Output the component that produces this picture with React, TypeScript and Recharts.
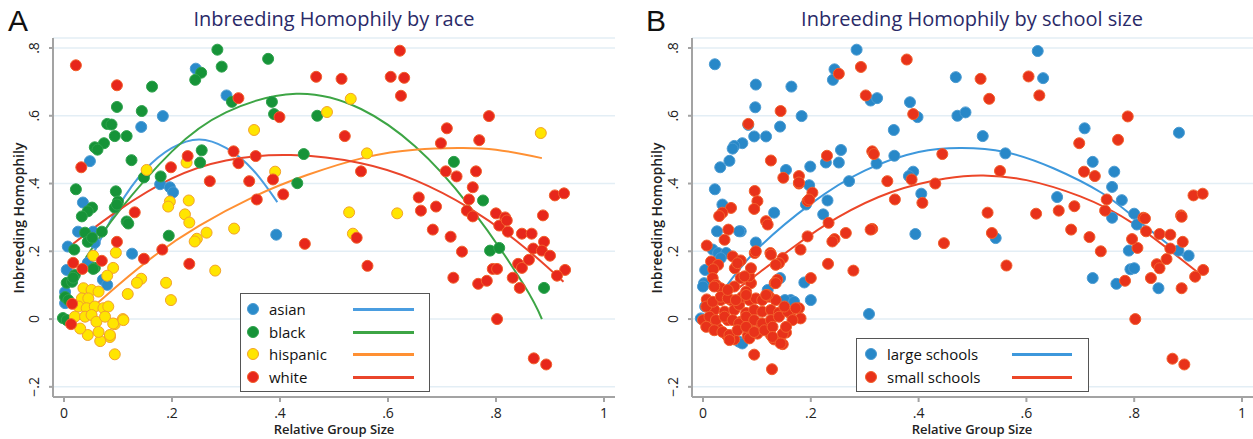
import { CartesianGrid, ComposedChart, Line, Scatter, XAxis, YAxis } from "recharts";

type Pt = [number, number];

const X_TICKS = [0, 0.2, 0.4, 0.6, 0.8, 1];
const Y_TICKS = [-0.2, 0, 0.2, 0.4, 0.6, 0.8];

// Panel A: points by race
const asian: Pt[] = [
  [0.244, 0.739], [0.301, 0.66], [0.183, 0.599], [0.143, 0.567], [0.048, 0.466],
  [0.178, 0.398], [0.196, 0.389], [0.202, 0.374], [0.035, 0.344], [0.393, 0.249],
  [0.126, 0.193], [0.007, 0.214], [0.005, 0.145], [0.044, 0.166], [0.072, 0.116],
  [0.08, 0.101], [0.026, 0.258], [0.054, 0.258], [0.002, 0.08], [0.002, 0.047],
  [0.057, 0.225],
];

const black: Pt[] = [
  [0.284, 0.795], [0.292, 0.745], [0.254, 0.727], [0.243, 0.706], [0.163, 0.686],
  [0.378, 0.768], [0.311, 0.641], [0.385, 0.641], [0.389, 0.605], [0.098, 0.626],
  [0.144, 0.614], [0.08, 0.576], [0.088, 0.574], [0.094, 0.54], [0.116, 0.54],
  [0.074, 0.519], [0.057, 0.507], [0.062, 0.5], [0.125, 0.469], [0.148, 0.418],
  [0.179, 0.421], [0.255, 0.498], [0.252, 0.462], [0.432, 0.401], [0.444, 0.487],
  [0.469, 0.6], [0.096, 0.377], [0.1, 0.347], [0.094, 0.329], [0.052, 0.329],
  [0.044, 0.318], [0.033, 0.303], [0.722, 0.464], [0.776, 0.35], [0.789, 0.202],
  [0.806, 0.21], [0.889, 0.092], [0.116, 0.288], [0.119, 0.282], [0.194, 0.246],
  [0.019, 0.205], [0.005, 0.107], [0.002, 0.065], [-0.002, 0.003], [0.057, 0.151],
  [0.039, 0.255], [0.044, 0.228], [0.07, 0.258], [0.02, 0.13], [0.015, 0.11],
  [0.022, 0.383], [0.098, 0.338], [0.052, 0.24], [0.054, 0.148], [0.017, 0.122],
  [0.008, 0.056], [0.005, -0.003],
];

const hispanic: Pt[] = [
  [0.153, 0.44], [0.227, 0.462], [0.352, 0.558], [0.391, 0.435], [0.196, 0.347],
  [0.193, 0.332], [0.231, 0.35], [0.224, 0.309], [0.531, 0.65], [0.487, 0.611],
  [0.883, 0.549], [0.561, 0.489], [0.528, 0.315], [0.617, 0.312], [0.535, 0.252],
  [0.232, 0.285], [0.264, 0.255], [0.246, 0.237], [0.242, 0.229], [0.315, 0.267],
  [0.096, 0.196], [0.28, 0.143], [0.189, 0.107], [0.198, 0.056], [0.143, 0.119],
  [0.135, 0.107], [0.118, 0.074], [0.091, 0.151], [0.08, 0.128], [0.109, 0.0],
  [0.094, -0.015], [0.085, -0.053], [0.094, -0.104], [0.067, -0.065], [0.044, -0.047],
  [0.054, 0.187], [0.036, 0.091], [0.051, 0.086], [0.064, 0.081], [0.033, 0.061],
  [0.045, 0.061], [0.027, 0.037], [0.042, 0.032], [0.057, 0.037], [0.073, 0.032],
  [0.082, 0.037], [0.02, 0.007], [0.039, 0.007], [0.051, 0.012], [0.06, -0.008],
  [0.076, 0.007], [0.091, -0.013], [0.11, -0.003], [0.03, -0.028], [0.064, -0.038],
  [0.085, -0.047],
];

const white: Pt[] = [
  [0.022, 0.749], [0.098, 0.69], [0.323, 0.652], [0.399, 0.596], [0.198, 0.448],
  [0.229, 0.481], [0.314, 0.495], [0.323, 0.46], [0.355, 0.481], [0.387, 0.412],
  [0.406, 0.368], [0.27, 0.407], [0.343, 0.407], [0.357, 0.353], [0.467, 0.715],
  [0.032, 0.448], [0.131, 0.315], [0.622, 0.792], [0.514, 0.709], [0.605, 0.715],
  [0.63, 0.712], [0.624, 0.659], [0.787, 0.599], [0.709, 0.563], [0.52, 0.54],
  [0.698, 0.519], [0.769, 0.528], [0.55, 0.436], [0.707, 0.436], [0.727, 0.421],
  [0.763, 0.436], [0.757, 0.389], [0.657, 0.359], [0.661, 0.32], [0.689, 0.332],
  [0.75, 0.353], [0.746, 0.32], [0.909, 0.365], [0.926, 0.371], [0.8, 0.312],
  [0.817, 0.3], [0.887, 0.306], [0.542, 0.24], [0.446, 0.222], [0.562, 0.157],
  [0.683, 0.264], [0.716, 0.243], [0.737, 0.199], [0.721, 0.122], [0.757, 0.303],
  [0.806, 0.276], [0.82, 0.291], [0.822, 0.258], [0.848, 0.252], [0.866, 0.252],
  [0.889, 0.228], [0.869, 0.208], [0.885, 0.202], [0.9, 0.187], [0.861, 0.175],
  [0.841, 0.163], [0.848, 0.151], [0.928, 0.145], [0.913, 0.128], [0.794, 0.148],
  [0.802, 0.148], [0.831, 0.122], [0.844, 0.092], [0.767, 0.104], [0.783, 0.113],
  [0.802, 0.0], [0.87, -0.116], [0.893, -0.134], [0.098, 0.228], [0.148, 0.178],
  [0.182, 0.205], [0.232, 0.163], [0.017, 0.166], [0.034, 0.148], [0.07, 0.172],
  [0.015, 0.045], [0.013, -0.015],
];

// Panel A: fitted curves
const fitAsian: Pt[] = [
  [0.05, 0.18], [0.1, 0.33], [0.15, 0.44], [0.2, 0.505], [0.25, 0.53],
  [0.3, 0.505], [0.35, 0.44], [0.395, 0.345],
];
const fitBlack: Pt[] = [
  [0.04, 0.18], [0.1, 0.315], [0.2, 0.495], [0.3, 0.61], [0.43, 0.665],
  [0.55, 0.62], [0.65, 0.51], [0.75, 0.335], [0.85, 0.105], [0.885, 0.0],
];
const fitHispanic: Pt[] = [
  [0.05, 0.03], [0.1, 0.1], [0.17, 0.19], [0.25, 0.275], [0.35, 0.36],
  [0.45, 0.425], [0.56, 0.478], [0.65, 0.5], [0.73, 0.505], [0.8, 0.5],
  [0.885, 0.475],
];
const fitWhite: Pt[] = [
  [0.015, 0.22], [0.1, 0.32], [0.2, 0.415], [0.3, 0.468], [0.42, 0.484],
  [0.55, 0.46], [0.65, 0.41], [0.75, 0.328], [0.85, 0.215], [0.925, 0.11],
];

// Panel B: points by school size
const large: Pt[] = [
  [0.022, 0.752], [0.098, 0.692], [0.285, 0.795], [0.244, 0.737], [0.241, 0.706],
  [0.164, 0.686], [0.311, 0.645], [0.323, 0.652], [0.384, 0.64], [0.398, 0.596],
  [0.097, 0.625], [0.183, 0.599], [0.084, 0.573], [0.143, 0.568], [0.095, 0.539],
  [0.117, 0.539], [0.073, 0.519], [0.058, 0.511], [0.055, 0.503], [0.049, 0.467],
  [0.032, 0.448], [0.154, 0.44], [0.199, 0.45], [0.197, 0.395], [0.231, 0.35],
  [0.228, 0.462], [0.256, 0.499], [0.252, 0.462], [0.271, 0.407], [0.322, 0.459],
  [0.354, 0.558], [0.355, 0.482], [0.39, 0.435], [0.382, 0.422], [0.405, 0.37],
  [0.022, 0.383], [0.036, 0.338], [0.132, 0.314], [0.223, 0.309], [0.621, 0.791],
  [0.469, 0.714], [0.631, 0.711], [0.472, 0.6], [0.487, 0.61], [0.883, 0.55],
  [0.708, 0.563], [0.519, 0.54], [0.561, 0.489], [0.723, 0.464], [0.763, 0.435],
  [0.759, 0.39], [0.657, 0.36], [0.777, 0.351], [0.8, 0.311], [0.394, 0.251],
  [0.543, 0.239], [0.723, 0.121], [0.759, 0.299], [0.805, 0.279], [0.882, 0.202],
  [0.901, 0.187], [0.79, 0.202], [0.793, 0.147], [0.8, 0.15], [0.845, 0.091],
  [0.767, 0.104], [0.308, 0.015], [0.191, 0.338], [0.143, 0.121], [0.188, 0.108],
  [0.2, 0.056], [0.163, 0.056], [0.152, 0.056], [0.169, 0.051], [0.098, 0.226],
  [0.07, 0.259], [0.026, 0.259], [0.018, 0.205], [0.028, 0.195], [0.043, 0.195],
  [0.004, 0.145], [0.002, 0.106], [0.004, 0.037], [-0.004, 0.002], [0.067, -0.067],
  [0.08, -0.021], [0.067, 0.259], [0.12, 0.086], [0.033, 0.18], [0.0, 0.096],
  [0.073, -0.072],
];

const small: Pt[] = [
  [0.293, 0.744], [0.252, 0.724], [0.378, 0.766], [0.302, 0.66], [0.39, 0.605],
  [0.144, 0.614], [0.084, 0.576], [0.126, 0.468], [0.149, 0.417], [0.178, 0.422],
  [0.178, 0.4], [0.203, 0.373], [0.194, 0.348], [0.23, 0.482], [0.314, 0.495],
  [0.317, 0.487], [0.387, 0.412], [0.342, 0.407], [0.356, 0.353], [0.407, 0.343],
  [0.431, 0.4], [0.444, 0.487], [0.052, 0.328], [0.036, 0.314], [0.03, 0.304],
  [0.096, 0.378], [0.101, 0.348], [0.095, 0.325], [0.515, 0.709], [0.604, 0.716],
  [0.624, 0.66], [0.531, 0.65], [0.788, 0.598], [0.698, 0.519], [0.77, 0.529],
  [0.551, 0.437], [0.707, 0.435], [0.727, 0.422], [0.66, 0.32], [0.689, 0.333],
  [0.749, 0.353], [0.746, 0.32], [0.91, 0.365], [0.927, 0.37], [0.817, 0.299],
  [0.887, 0.306], [0.528, 0.314], [0.618, 0.311], [0.265, 0.254], [0.314, 0.266],
  [0.536, 0.254], [0.447, 0.224], [0.563, 0.158], [0.683, 0.264], [0.717, 0.242],
  [0.738, 0.2], [0.82, 0.297], [0.822, 0.259], [0.888, 0.302], [0.847, 0.251],
  [0.867, 0.249], [0.89, 0.228], [0.867, 0.208], [0.86, 0.177], [0.842, 0.162],
  [0.847, 0.15], [0.928, 0.145], [0.913, 0.125], [0.806, 0.21], [0.796, 0.236],
  [0.831, 0.121], [0.783, 0.113], [0.888, 0.091], [0.802, 0.0], [0.871, -0.117],
  [0.893, -0.134], [0.311, 0.264], [0.244, 0.236], [0.24, 0.229], [0.233, 0.284],
  [0.194, 0.244], [0.181, 0.205], [0.232, 0.163], [0.279, 0.143], [0.2, 0.121],
  [0.178, 0.032], [0.181, 0.002], [0.162, 0.017], [0.154, -0.04], [0.148, -0.074],
  [0.128, -0.148], [0.095, -0.105], [0.126, -0.047], [0.132, -0.06], [0.101, -0.043],
  [0.083, -0.05], [0.058, -0.06], [0.044, -0.047], [0.138, 0.116], [0.133, 0.106],
  [0.125, 0.195], [0.148, 0.18], [0.141, 0.165], [0.096, 0.195], [0.117, 0.289],
  [0.12, 0.279], [0.047, 0.264], [0.04, 0.234], [0.007, 0.217], [0.015, 0.17],
  [0.028, 0.16], [0.019, 0.147], [0.055, 0.185], [0.07, 0.173], [0.059, 0.15],
  [0.018, 0.121], [0.024, 0.101], [0.033, 0.091], [0.007, 0.058], [0.033, 0.056],
  [0.052, 0.056], [0.0, -0.003], [0.015, -0.018], [0.028, -0.028], [0.046, -0.003],
  [0.021, 0.027], [0.04, 0.022], [0.058, 0.027], [0.067, 0.042], [0.073, 0.066],
  [0.086, 0.056], [0.098, 0.061], [0.11, 0.056], [0.123, 0.066], [0.135, 0.056],
  [0.08, 0.018], [0.095, 0.027], [0.11, 0.022], [0.126, 0.027], [0.141, 0.019],
  [0.07, -0.008], [0.089, -0.011], [0.107, -0.013], [0.12, -0.023], [0.086, -0.057],
  [0.089, 0.106], [0.08, 0.081], [0.086, 0.126], [0.07, 0.121], [0.058, 0.096],
  [0.12, 0.071], [0.098, 0.2], [0.064, 0.165], [0.126, 0.19], [0.135, 0.16],
  [0.089, 0.15], [0.077, 0.126], [0.135, 0.106], [0.197, 0.353], [0.178, 0.403],
  [0.012, 0.007], [0.024, -0.003], [0.04, 0.007], [0.055, -0.003], [0.067, -0.013],
  [0.08, 0.007], [0.095, -0.003], [0.11, -0.013], [0.126, -0.003], [0.141, 0.007],
  [0.157, 0.022], [0.172, 0.032], [0.166, -0.003], [0.006, -0.023], [0.021, -0.033],
  [0.036, -0.038], [0.049, -0.047], [0.064, -0.033], [0.08, -0.023], [0.095, -0.038],
  [0.114, -0.033], [0.129, -0.023], [0.148, -0.043], [0.154, -0.023], [0.049, -0.062],
  [0.129, -0.053], [0.144, -0.072], [0.006, 0.037], [0.018, 0.051], [0.033, 0.066],
  [0.046, 0.061], [0.061, 0.056], [0.08, 0.071], [0.117, 0.071], [0.151, 0.037],
  [0.021, 0.096], [0.046, 0.086],
];

const fitLarge: Pt[] = [
  [0.04, 0.09], [0.1, 0.205], [0.2, 0.34], [0.3, 0.438], [0.4, 0.493],
  [0.48, 0.505], [0.56, 0.493], [0.65, 0.445], [0.74, 0.372], [0.8, 0.3],
  [0.9, 0.175],
];
const fitSmall: Pt[] = [
  [0.06, 0.085], [0.09, 0.12], [0.17, 0.215], [0.25, 0.3], [0.35, 0.375],
  [0.45, 0.415], [0.52, 0.424], [0.6, 0.41], [0.7, 0.362], [0.8, 0.28],
  [0.92, 0.135],
];

const FONT = "'Open Sans', 'DejaVu Sans', sans-serif";
const AXIS_COLOR = "#a3a3a3";
const GRID_COLOR = "#e3eef5";

const toRows = (pts: Pt[]) => pts.map(([x, y]) => ({ x, y }));

const fmt = (v: number) => {
  if (v === 0) return "0";
  if (v === 1) return "1";
  const s = Math.abs(v).toFixed(1).replace(/^0/, "");
  return v < 0 ? "\u2212" + s : s;
};

const dot = (fill: string, stroke: string) => (props: any) =>
  <circle cx={props.cx} cy={props.cy} r={5.5} fill={fill} stroke={stroke} strokeWidth={1} />;

const YTick = ({ x, y, payload }: any) => (
  <text
    x={x}
    y={y}
    transform={`rotate(-90, ${x}, ${y})`}
    textAnchor="middle"
    fontSize={14}
    fontFamily={FONT}
    fill="#222"
  >
    {fmt(payload.value)}
  </text>
);

interface SeriesDef {
  pts: Pt[];
  fill: string;
  stroke: string;
}
interface FitDef {
  pts: Pt[];
  color: string;
}

function Panel({
  width,
  right,
  xMax,
  series,
  fits,
}: {
  width: number;
  right: number;
  xMax: number;
  series: SeriesDef[];
  fits: FitDef[];
}) {
  return (
    <ComposedChart width={width} height={439} margin={{ top: 38, right, bottom: 0, left: 0 }}>
      <CartesianGrid vertical={false} stroke={GRID_COLOR} strokeWidth={1.5} />
      <XAxis
        type="number"
        dataKey="x"
        domain={[-0.0204, xMax]}
        ticks={X_TICKS}
        tickFormatter={fmt}
        allowDataOverflow
        height={42}
        stroke={AXIS_COLOR}
        strokeWidth={2}
        tickSize={5}
        tickMargin={6}
        tick={{ fontSize: 14, fill: "#222", fontFamily: FONT }}
      />
      <YAxis
        type="number"
        dataKey="y"
        domain={[-0.23, 0.8295]}
        ticks={Y_TICKS}
        allowDataOverflow
        width={53}
        stroke={AXIS_COLOR}
        strokeWidth={2}
        tickSize={4}
        tickMargin={10}
        tick={<YTick />}
      />
      {series.map((s, i) => (
        <Scatter
          key={`s-${i}`}
          data={toRows(s.pts)}
          shape={dot(s.fill, s.stroke)}
          isAnimationActive={false}
        />
      ))}
      {fits.map((f, i) => (
        <Line
          key={`f-${i}`}
          data={toRows(f.pts)}
          dataKey="y"
          type="natural"
          stroke={f.color}
          strokeWidth={2}
          dot={false}
          activeDot={false}
          isAnimationActive={false}
        />
      ))}
    </ComposedChart>
  );
}

const abs = (left: number, top: number, extra: any = {}) => ({
  position: "absolute" as const,
  left,
  top,
  ...extra,
});

function LegendRow({ y, x0, label, fill, stroke, line, textX, lineX, lineW }: any) {
  return (
    <>
      <div
        style={abs(x0 - 6, y - 6, {
          width: 10,
          height: 10,
          borderRadius: "50%",
          background: fill,
          border: `1px solid ${stroke}`,
        })}
      />
      <div style={abs(textX, y - 11, { fontSize: 15, lineHeight: "22px", color: "#111" })}>{label}</div>
      <div style={abs(lineX, y - 1.5, { width: lineW, height: 3, background: line })} />
    </>
  );
}

export default function App() {
  const raceSeries: SeriesDef[] = [
    { pts: asian, fill: "#2a8bca", stroke: "#4b9bd2" },
    { pts: black, fill: "#169338", stroke: "#2ea24c" },
    { pts: hispanic, fill: "#ffe500", stroke: "#f3a22a" },
    { pts: white, fill: "#e7271b", stroke: "#f2602c" },
  ];
  const raceFits: FitDef[] = [
    { pts: fitAsian, color: "#4a9de0" },
    { pts: fitBlack, color: "#3da545" },
    { pts: fitHispanic, color: "#ff9033" },
    { pts: fitWhite, color: "#ea452b" },
  ];
  const sizeSeries: SeriesDef[] = [
    { pts: large, fill: "#2888c8", stroke: "#4b9bd2" },
    { pts: small, fill: "#e8321a", stroke: "#f2602c" },
  ];
  const sizeFits: FitDef[] = [
    { pts: fitLarge, color: "#3d98dc" },
    { pts: fitSmall, color: "#ec4628" },
  ];

  const titleStyle = {
    fontSize: 20,
    color: "#2a2a68",
    whiteSpace: "nowrap" as const,
    transform: "translateX(-50%)",
    lineHeight: "22px",
  };
  const axisLabel = {
    fontSize: 13,
    fontWeight: 600,
    color: "#222",
    whiteSpace: "nowrap" as const,
    lineHeight: "15px",
  };

  return (
    <div style={{ position: "relative", width: 1253, height: 439, background: "#fff", fontFamily: FONT, overflow: "hidden" }}>
      <style>{"body{margin:0}"}</style>
      <div style={abs(0, 0)}>
        <Panel width={630} right={15} xMax={1.0204} series={raceSeries} fits={raceFits} />
      </div>
      <div style={abs(639, 0)}>
        <Panel width={614} right={0} xMax={1.0204} series={sizeSeries} fits={sizeFits} />
      </div>

      <div style={abs(8, 4, { fontSize: 30, color: "#111", fontFamily: "'Liberation Sans', Arial, sans-serif" })}>A</div>
      <div style={abs(646, 4, { fontSize: 30, color: "#111", fontFamily: "'Liberation Sans', Arial, sans-serif" })}>B</div>

      <div style={abs(334, 8, titleStyle)}>Inbreeding Homophily by race</div>
      <div style={abs(972, 8, titleStyle)}>Inbreeding Homophily by school size</div>

      <div style={abs(18, 218, { ...axisLabel, fontSize: 14, transform: "translate(-50%, -50%) rotate(-90deg)" })}>Inbreeding Homophily</div>
      <div style={abs(656, 218, { ...axisLabel, fontSize: 14, transform: "translate(-50%, -50%) rotate(-90deg)" })}>Inbreeding Homophily</div>
      <div style={abs(334, 422, { ...axisLabel, transform: "translateX(-50%)" })}>Relative Group Size</div>
      <div style={abs(972, 422, { ...axisLabel, transform: "translateX(-50%)" })}>Relative Group Size</div>

      <div style={abs(240, 293, { width: 188, height: 97, border: "1.5px solid #555", background: "#fff" })} />
      <LegendRow y={309} x0={253} textX={269} lineX={353} lineW={61} label="asian" fill="#2a8bca" stroke="#4b9bd2" line="#4a9de0" />
      <LegendRow y={332} x0={253} textX={269} lineX={353} lineW={61} label="black" fill="#169338" stroke="#2ea24c" line="#3da545" />
      <LegendRow y={354} x0={253} textX={269} lineX={353} lineW={61} label="hispanic" fill="#ffe500" stroke="#f3a22a" line="#ff9033" />
      <LegendRow y={377} x0={253} textX={269} lineX={353} lineW={61} label="white" fill="#e7271b" stroke="#f2602c" line="#ea452b" />

      <div style={abs(856, 338, { width: 231, height: 52, border: "1.5px solid #555", background: "#fff" })} />
      <LegendRow y={354} x0={871} textX={887} lineX={1012} lineW={60} label="large schools" fill="#2888c8" stroke="#4b9bd2" line="#3d98dc" />
      <LegendRow y={377} x0={871} textX={887} lineX={1012} lineW={60} label="small schools" fill="#e8321a" stroke="#f2602c" line="#ec4628" />
    </div>
  );
}
